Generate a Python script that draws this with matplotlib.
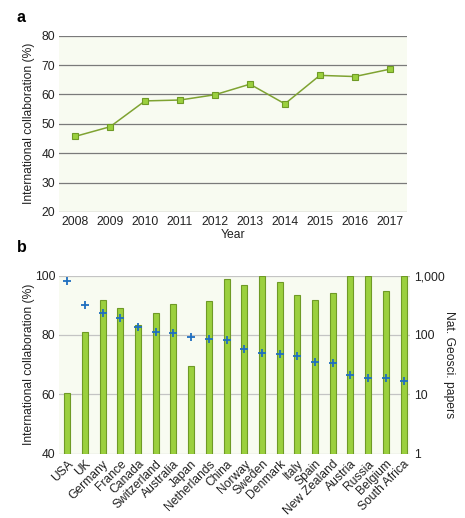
import matplotlib.pyplot as plt
from matplotlib.ticker import FixedLocator, FuncFormatter

years = [2008, 2009, 2010, 2011, 2012, 2013, 2014, 2015, 2016, 2017]
collab_by_year = [45.7, 49.0, 57.8, 58.1, 59.9, 63.5, 56.8, 66.5, 66.1, 68.6]

countries = ["USA", "UK", "Germany", "France", "Canada", "Switzerland", "Australia",
             "Japan", "Netherlands", "China", "Norway", "Sweden", "Denmark", "Italy",
             "Spain", "New Zealand", "Austria", "Russia", "Belgium", "South Africa"]
collab_by_country = [60.6, 81.1, 91.9, 89.2, 83.3, 87.4, 90.3, 69.5, 91.3, 99.0,
                     96.8, 100.0, 97.8, 93.3, 91.7, 94.3, 100.0, 100.0, 94.9, 100.0]
papers = [815, 317, 234, 191, 137, 112, 109, 93, 85, 82,
          59, 49, 47.5, 44.6, 35, 34, 21.3, 19.2, 19.2, 17.1]

BG = "#f8fbf1"
GREEN = "#9bd03e"
GREEN_DARK = "#6f9a26"
BLUE = "#1f6fc0"
TXT = "#222222"
FS = 8.7

plt.rcParams["font.family"] = "Liberation Sans"
plt.rcParams["font.size"] = FS

fig = plt.figure(figsize=(4.65, 5.18), dpi=100)

# panel a: collaboration over time
ax1 = fig.add_axes([0.127, 0.591, 0.748, 0.340])
ax1.set_facecolor(BG)
ax1.plot(years, collab_by_year, color="#7fa332", lw=1.1, marker="s", ms=4.5,
         mfc=GREEN, mec=GREEN_DARK, mew=0.8, zorder=3)
ax1.set_xlim(2007.54, 2017.49)
ax1.set_ylim(20, 80)
ax1.set_yticks(range(20, 81, 10))
ax1.set_xticks(years)
ax1.grid(axis="y", color="#7a7a7a", lw=0.9)
ax1.set_axisbelow(True)
for s in ax1.spines.values():
    s.set_visible(False)
ax1.tick_params(length=0, pad=3, colors=TXT, labelsize=FS)
ax1.set_xlabel("Year", color=TXT, labelpad=1)
ax1.set_ylabel("International collaboration (%)", color=TXT, va="center")
ax1.yaxis.set_label_coords(-0.086, 0.5)
fig.text(0.036, 0.967, "a", fontsize=11.5, fontweight="bold", va="center")

# panel b: collaboration by country, with paper counts on a log axis
ax2 = fig.add_axes([0.1275, 0.124, 0.754, 0.344])
ax2.set_facecolor(BG)
x = range(len(countries))
ax2.bar(x, [v - 40 for v in collab_by_country], bottom=40, width=0.34,
        color=GREEN, edgecolor=GREEN_DARK, lw=0.8, zorder=2)
ax2.set_xlim(-0.45, 19.36)
ax2.set_ylim(40, 100)
ax2.set_yticks([40, 60, 80, 100])
ax2.grid(axis="y", color="#c4c4c4", lw=0.9)
ax2.set_axisbelow(True)
for s in ax2.spines.values():
    s.set_visible(False)
ax2.set_xticks(list(x))
ax2.set_xticklabels(countries, rotation=45, ha="right", rotation_mode="anchor")
ax2.tick_params(length=0, pad=3, colors=TXT, labelsize=FS)
ax2.set_ylabel("International collaboration (%)", color=TXT, va="center")
ax2.yaxis.set_label_coords(-0.086, 0.5)

ax3 = ax2.twinx()
ax3.set_yscale("log")
ax3.set_ylim(1, 1000)
ax3.scatter(list(x), papers, marker="+", s=30, color=BLUE, lw=1.3, zorder=4)
ax3.yaxis.set_major_locator(FixedLocator([1, 10, 100, 1000]))
ax3.yaxis.set_minor_locator(FixedLocator([]))
ax3.yaxis.set_major_formatter(FuncFormatter(lambda v, p: f"{int(v):,}"))
for s in ax3.spines.values():
    s.set_visible(False)
ax3.tick_params(length=0, pad=3, colors=TXT, labelsize=FS)
ax3.set_ylabel("Nat. Geosci. papers", color=TXT, rotation=-90, va="center")
ax3.yaxis.set_label_coords(1.111, 0.5)
fig.text(0.036, 0.522, "b", fontsize=11.5, fontweight="bold", va="center")

fig.savefig("out.png", dpi=100)
